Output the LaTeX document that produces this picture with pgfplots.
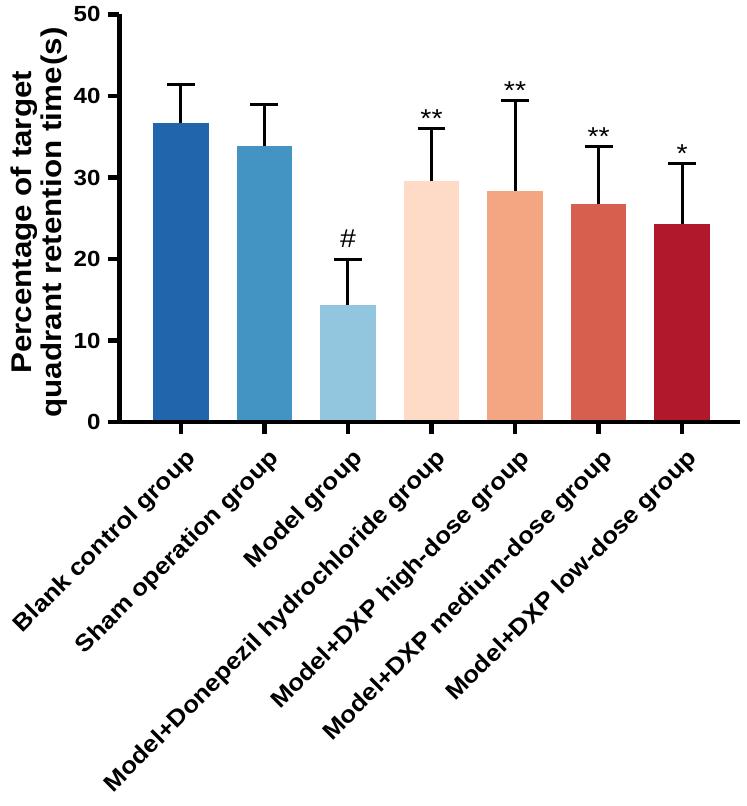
\documentclass[border=0pt]{standalone}
\usepackage{pgfplots}
\pgfplotsset{compat=1.18}
\usepackage{fontspec}
\setmainfont{Liberation Sans}[FakeStretch=1.1]
\definecolor{c1}{HTML}{2166AC}
\definecolor{c2}{HTML}{4393C3}
\definecolor{c3}{HTML}{92C5DE}
\definecolor{c4}{HTML}{FDDBC7}
\definecolor{c5}{HTML}{F4A582}
\definecolor{c6}{HTML}{D6604D}
\definecolor{c7}{HTML}{B2182B}
\pgfplotsset{
  mybar/.style={ybar, bar width=0.665, fill=#1, draw=none,
    error bars/.cd, y dir=plus, y explicit, error mark=|,
    error bar style={line width=1.5pt, black},
    error mark options={line width=1.5pt, black, mark size=7pt}}
}
\begin{document}
\begin{tikzpicture}
\path (0,0) rectangle (375pt,403pt);
\begin{axis}[
  at={(60pt,191.25pt)}, anchor=south west,
  width=311.5pt, height=204.75pt, scale only axis,
  xmin=-0.735, xmax=6.69, ymin=0, ymax=50,
  axis lines*=left,
  axis on top,
  clip=false,
  axis line style={line width=2.2pt, black},
  tick align=outside,
  major tick length=6pt,
  tick style={line width=2.2pt, black},
  xtick={0,1,2,3,4,5,6},
  xticklabels={Blank control group, Sham operation group, Model group, Model+Donepezil hydrochloride group, Model+DXP high-dose group, Model+DXP medium-dose group, Model+DXP low-dose group},
  xticklabel style={rotate=45, anchor=east, yshift=-11.5pt, font=\fontsize{11.8}{13}\selectfont\bfseries},
  ytick={0,10,20,30,40,50},
  /pgf/number format/assume math mode=true,
  yticklabel style={font=\fontsize{11}{13}\selectfont\bfseries},
  ylabel={Percentage of target\\quadrant retention time\kern1pt(s)},
  ylabel style={at={(axis description cs:-0.13,0.49)}, anchor=center, align=center, font=\fontsize{14.3}{15}\selectfont\bfseries},
]
\addplot[mybar=c1] coordinates {(0,36.7) +- (0,4.7)};
\addplot[mybar=c2] coordinates {(1,33.8) +- (0,5.1)};
\addplot[mybar=c3] coordinates {(2,14.4) +- (0,5.5)};
\addplot[mybar=c4] coordinates {(3,29.6) +- (0,6.4)};
\addplot[mybar=c5] coordinates {(4,28.4) +- (0,11.1)};
\addplot[mybar=c6] coordinates {(5,26.8) +- (0,7.0)};
\addplot[mybar=c7] coordinates {(6,24.3) +- (0,7.4)};
\node[font=\fontsize{13}{13}\selectfont, anchor=base, yshift=6pt] at (axis cs:2,19.9) {\#};
\node[font=\fontsize{13}{13}\selectfont, anchor=base, yshift=0.5pt] at (axis cs:3,36.0) {**};
\node[font=\fontsize{13}{13}\selectfont, anchor=base, yshift=0.5pt] at (axis cs:4,39.5) {**};
\node[font=\fontsize{13}{13}\selectfont, anchor=base, yshift=0.5pt] at (axis cs:5,33.8) {**};
\node[font=\fontsize{13}{13}\selectfont, anchor=base, yshift=0.5pt] at (axis cs:6,31.7) {*};
\end{axis}
\end{tikzpicture}
\end{document}
